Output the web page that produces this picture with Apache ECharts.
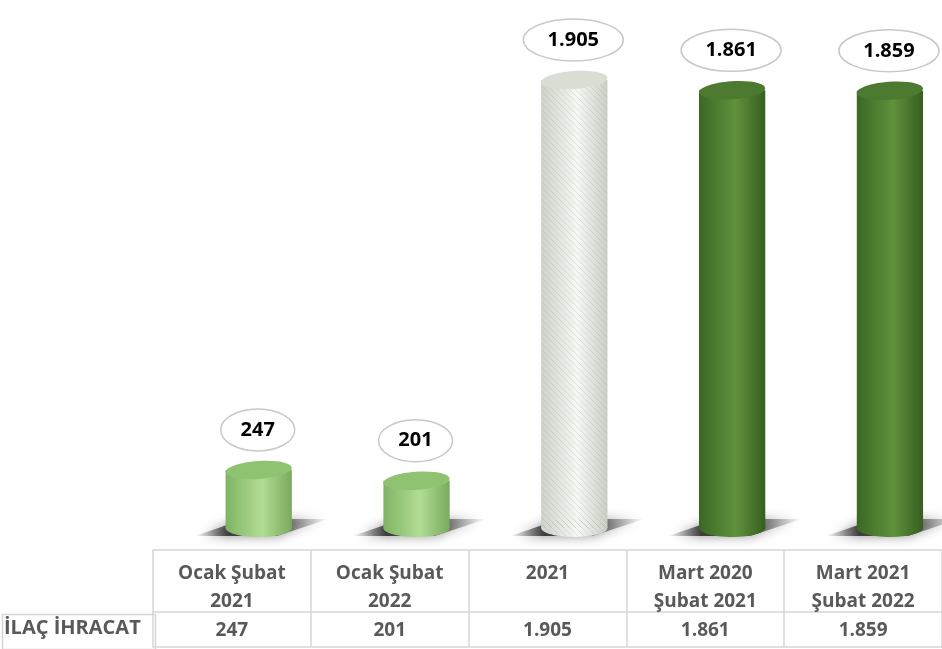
<!DOCTYPE html>
<html><head><meta charset="utf-8">
<script src="https://cdn.jsdelivr.net/npm/echarts@6/dist/echarts.min.js"></script>
<style>html,body{margin:0;padding:0;background:#fff}#c{width:942px;height:649px}</style>
</head><body><div id="c"></div>
<script>
const categories = ['Ocak Şubat\n2021', 'Ocak Şubat\n2022', '2021', 'Mart 2020\nŞubat 2021', 'Mart 2021\nŞubat 2022'];
const values = [247, 201, 1905, 1861, 1859];
const valueLabels = ['247', '201', '1.905', '1.861', '1.859'];
const rowLabel = 'İLAÇ İHRACAT';
const barKinds = ['light', 'light', 'white', 'dark', 'dark'];

const FONT = '"Open Sans", "Noto Sans", sans-serif';
const LINE = '#d6d6d6';
const TXT = '#595959';

const palettes = {
  light: { edgeL: '#7fb363', mid: '#b2dd95', edgeR: '#78aa5c', top: '#8fc271' },
  white: { edgeL: '#cdd3c9', mid: '#f5f8f3', edgeR: '#c9cfc5', top: '#d9ded5' },
  dark:  { edgeL: '#3a6823', mid: '#5f913d', edgeR: '#365f20', top: '#4b7a30' }
};

// hatch pattern for the white cylinder
const hatch = document.createElement('canvas');
hatch.width = 6; hatch.height = 6;
(function () {
  const g = hatch.getContext('2d');
  g.strokeStyle = 'rgba(120,130,115,0.16)';
  g.lineWidth = 1;
  g.beginPath(); g.moveTo(0, 0); g.lineTo(6, 6); g.stroke();
  g.beginPath(); g.moveTo(-3, 3); g.lineTo(3, 9); g.stroke();
  g.beginPath(); g.moveTo(3, -3); g.lineTo(9, 3); g.stroke();
})();

function grad(p) {
  return new echarts.graphic.LinearGradient(0, 0, 1, 0, [
    { offset: 0, color: p.edgeL },
    { offset: 0.55, color: p.mid },
    { offset: 1, color: p.edgeR }
  ]);
}
function shadowGrad() {
  return new echarts.graphic.LinearGradient(0, 0, 1, 0, [
    { offset: 0, color: 'rgba(60,60,60,0)' },
    { offset: 0.25, color: 'rgba(40,40,40,0.85)' },
    { offset: 0.65, color: 'rgba(50,50,50,0.75)' },
    { offset: 1, color: 'rgba(80,80,80,0)' }
  ]);
}

const labelFont = { color: TXT, fontSize: 19, fontWeight: 'bold', fontFamily: FONT };

const chart = echarts.init(document.getElementById('c'));
chart.setOption({
  backgroundColor: '#fff',
  animation: false,
  grid: { left: 153, right: 0, top: 80, bottom: 121 },
  yAxis: { type: 'value', min: 0, max: 1905, show: false },
  xAxis: [
    {
      type: 'category', data: categories, position: 'bottom', offset: 22,
      axisLine: { onZero: false, lineStyle: { color: LINE, width: 1.5 } },
      axisTick: { show: true, interval: 0, length: 97, lineStyle: { color: LINE, width: 1.5 } },
      axisLabel: Object.assign({ interval: 0, margin: 10, lineHeight: 28 }, labelFont)
    },
    {
      type: 'category', data: valueLabels, position: 'bottom', offset: 84,
      axisLine: { onZero: false, lineStyle: { color: LINE, width: 1.5 } },
      axisTick: { show: false },
      axisLabel: Object.assign({ interval: 0, margin: 8, lineHeight: 22 }, labelFont)
    },
    {
      type: 'category', data: categories, position: 'bottom', offset: 119,
      axisLine: { onZero: false, lineStyle: { color: LINE, width: 1.5 } },
      axisTick: { show: false }, axisLabel: { show: false }
    }
  ],
  graphic: [
    { type: 'rect', left: 0, top: 612, shape: { width: 153, height: 35 }, style: { fill: 'none', stroke: LINE, lineWidth: 1.5 } },
    { type: 'text', left: 4, top: 618, style: { text: rowLabel, fill: TXT, fontSize: 20, fontWeight: 'bold', fontFamily: FONT } }
  ],
  series: [{
    type: 'custom',
    xAxisIndex: 0,
    clip: false,
    data: values.map((v, i) => [i, v]),
    renderItem: function (params, api) {
      const i = api.value(0), v = api.value(1);
      const top = api.coord([i, v]);
      const base = api.coord([i, 0]);
      const band = api.size([1, 0])[0];
      const w = band * 0.42;
      const cx = top[0] + band * 0.17;
      const rx = w / 2, ry = 9;
      const p = palettes[barKinds[i]];
      const b = base[1];
      const children = [];
      // floor shadow (skewed band, softened)
      children.push({
        type: 'polygon',
        shape: { points: [[cx - 64, b + 8], [cx + 18, b + 8], [cx + 70, b - 9], [cx - 14, b - 9]] },
        style: { fill: shadowGrad(), shadowBlur: 12, shadowColor: 'rgba(0,0,0,0.55)' }
      });
      // bottom ellipse
      children.push({ type: 'ellipse', shape: { cx: cx, cy: b, rx: rx, ry: ry }, style: { fill: grad(p) } });
      // body
      children.push({ type: 'rect', shape: { x: cx - rx, y: top[1], width: w, height: b - top[1] }, style: { fill: grad(p) } });
      if (barKinds[i] === 'white') {
        children.push({ type: 'rect', shape: { x: cx - rx, y: top[1], width: w, height: b - top[1] }, style: { fill: { image: hatch, repeat: 'repeat' } } });
        children.push({ type: 'ellipse', shape: { cx: cx, cy: b, rx: rx, ry: ry }, style: { fill: { image: hatch, repeat: 'repeat' } } });
      }
      // top ellipse (slightly tilted as in the 3D view)
      children.push({
        type: 'ellipse', shape: { cx: 0, cy: 0, rx: rx, ry: ry },
        x: cx, y: top[1], rotation: 0.07,
        style: { fill: p.top }
      });
      // value callout
      const txt = valueLabels[i];
      const lw = txt.length > 3 ? 50 : 37;
      const ly = top[1] - 40;
      children.push({ type: 'ellipse', shape: { cx: cx - 1, cy: ly, rx: lw, ry: 21 }, style: { fill: '#fff', stroke: '#c8c8c8', lineWidth: 1.5 } });
      children.push({ type: 'text', x: cx - 1, y: ly, style: { text: txt, align: 'center', verticalAlign: 'middle', fill: '#000', fontSize: 20, fontWeight: 'bold', fontFamily: FONT } });
      return { type: 'group', children: children };
    }
  }]
});
</script></body></html>
